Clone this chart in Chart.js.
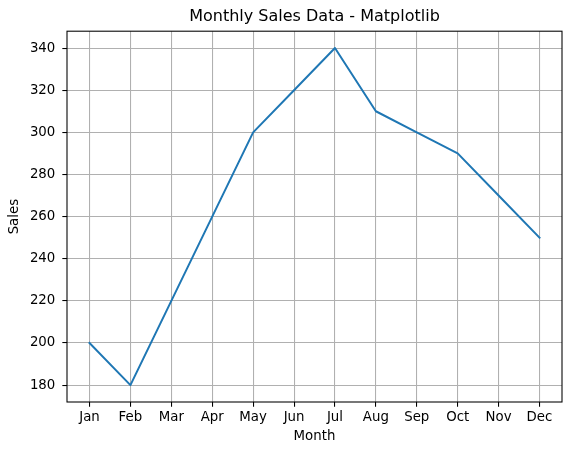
<!DOCTYPE html>
<html><head><meta charset="utf-8">
<script src="https://cdn.jsdelivr.net/npm/chart.js@4"></script>
<style>html,body{margin:0;padding:0;background:#fff}canvas{display:block}</style>
</head><body>
<canvas id="c" width="571" height="455"></canvas>
<script>
const months = ['Jan','Feb','Mar','Apr','May','Jun','Jul','Aug','Sep','Oct','Nov','Dec'];
const sales = [200,180,220,260,300,320,340,310,300,290,270,250];
const yTicks = [180,200,220,240,260,280,300,320,340];
const chartTitle = 'Monthly Sales Data - Matplotlib';
const xTitle = 'Month';
const yTitle = 'Sales';

const FONT = 'DejaVu Sans';
const PT = 96/72;

const frame = {
  id: 'frame',
  afterLayout(chart) {
    const t = chart.titleBlock, a = chart.chartArea;
    if (t) { t.left = a.left; t.right = a.right; t.width = a.right - a.left; }
  },
  afterDraw(chart) {
    const a = chart.chartArea, ctx = chart.ctx;
    ctx.save();
    ctx.strokeStyle = '#000';
    ctx.lineWidth = 0.8*PT;
    ctx.strokeRect(a.left, a.top, a.right - a.left, a.bottom - a.top);
    ctx.restore();
  }
};

new Chart(document.getElementById('c'), {
  type: 'line',
  data: {
    datasets: [{
      data: sales.map((v, i) => ({x: i, y: v})),
      borderColor: '#1f77b4',
      borderWidth: 1.5*PT,
      pointRadius: 0,
      tension: 0,
      fill: false,
      borderCapStyle: 'square',
      borderJoinStyle: 'round'
    }]
  },
  options: {
    responsive: false,
    animation: false,
    layout: {padding: {left: 0, right: 9, top: 0, bottom: 0}},
    plugins: {
      legend: {display: false},
      tooltip: {enabled: false},
      title: {
        display: true,
        text: chartTitle,
        color: '#000',
        font: {family: FONT, size: 12*PT, weight: 'normal', lineHeight: 1.2},
        padding: {top: 7.6, bottom: 4.4}
      }
    },
    scales: {
      x: {
        type: 'linear',
        min: -0.55,
        max: 11.55,
        afterBuildTicks: s => { s.ticks = months.map((m, i) => ({value: i})); },
        afterFit: s => { s.height = 53; },
        ticks: {
          callback: v => months[v],
          color: '#000',
          font: {family: FONT, size: 10*PT, lineHeight: 1.2},
          padding: 2.9,
          maxRotation: 0,
          autoSkip: false
        },
        grid: {color: '#b0b0b0', lineWidth: 0.8*PT, tickColor: '#000', tickLength: 3.5*PT, tickWidth: 0.8*PT},
        border: {display: false},
        title: {
          display: true, text: xTitle, color: '#000',
          font: {family: FONT, size: 10*PT, lineHeight: 1.2},
          padding: {top: 0, bottom: 10}
        }
      },
      y: {
        type: 'linear',
        min: 172,
        max: 348,
        afterBuildTicks: s => { s.ticks = yTicks.map(v => ({value: v})); },
        afterFit: s => { s.width = 67; },
        ticks: {
          color: '#000',
          font: {family: FONT, size: 10*PT, lineHeight: 1.2},
          padding: 7
        },
        grid: {color: '#b0b0b0', lineWidth: 0.8*PT, tickColor: '#000', tickLength: 3.5*PT, tickWidth: 0.8*PT},
        border: {display: false},
        title: {
          display: true, text: yTitle, color: '#000',
          font: {family: FONT, size: 10*PT, lineHeight: 1.2},
          padding: {top: 6.9, bottom: 0}
        }
      }
    }
  },
  plugins: [frame]
});
</script>
</body></html>
